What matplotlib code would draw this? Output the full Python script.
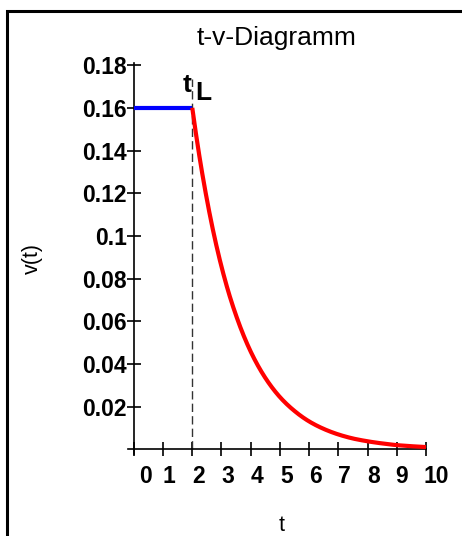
import matplotlib
matplotlib.use('Agg')
import numpy as np
import matplotlib.pyplot as plt
from matplotlib.transforms import ScaledTranslation
from matplotlib.lines import Line2D

plt.rcParams['font.family'] = ['Liberation Sans', 'DejaVu Sans']

# --- data ---
t_const = [0, 2]
v_const = [0.16, 0.16]

t_decay = [2, 2.25, 2.5, 2.75, 3, 3.25, 3.5, 3.75, 4, 4.5, 5, 5.5, 6, 6.5, 7,
           7.5, 8, 8.5, 9, 9.5, 10]
v_decay = [0.160, 0.1368, 0.1171, 0.1001, 0.0856, 0.0732, 0.0627, 0.0536,
           0.0458, 0.0335, 0.0245, 0.0180, 0.0131, 0.0096, 0.0070, 0.0051,
           0.0038, 0.0028, 0.0020, 0.0015, 0.0011]

t_L = 2
x_ticks = [0, 1, 2, 3, 4, 5, 6, 7, 8, 9, 10]
y_ticks = [0.02, 0.04, 0.06, 0.08, 0.10, 0.12, 0.14, 0.16, 0.18]
y_tick_labels = ['0.02', '0.04', '0.06', '0.08', '0.1', '0.12', '0.14', '0.16', '0.18']

W, H = 462, 536
fig = plt.figure(figsize=(W / 100, H / 100), dpi=100)
ax = fig.add_axes([128 / W, (H - 454.1) / H, 298 / W, 391.1 / H])

# outer frame (partly clipped by the image border)
fig.add_artist(Line2D([7.5 / W, 7.5 / W, 1.05], [-0.05, 1 - 10.5 / H, 1 - 10.5 / H],
                      transform=fig.transFigure, color='black', lw=2.2,
                      solid_joinstyle='miter'))

# smooth drawing through the read points (log-linear between them)
t_fine = np.linspace(t_decay[0], t_decay[-1], 400)
v_fine = np.exp(np.interp(t_fine, t_decay, np.log(v_decay)))

ax.plot(t_const, v_const, color='#0000ff', lw=3, solid_capstyle='butt', zorder=3)
ax.plot(t_fine, v_fine, color='#ff0000', lw=3, solid_capstyle='butt', zorder=3)
ax.plot([t_L, t_L], [0, 0.1735], color='#333333', lw=1, dashes=(6, 3), zorder=2)

ax.set_xlim(-0.2, 10)
ax.set_ylim(-0.0022, 0.181)

for s in ['top', 'right']:
    ax.spines[s].set_visible(False)
ax.spines['left'].set_position(('data', 0))
ax.spines['bottom'].set_position(('data', 0))
for s in ['left', 'bottom']:
    ax.spines[s].set_linewidth(1.2)

ax.set_xticks(x_ticks)
ax.set_xticklabels([str(x) for x in x_ticks], fontsize=16.5, fontweight='bold')
ax.set_yticks(y_ticks)
ax.set_yticklabels(y_tick_labels, fontsize=16.5, fontweight='bold')
ax.tick_params(axis='x', direction='inout', length=10, width=1.2, pad=6)
ax.tick_params(axis='y', direction='inout', length=10, width=1.2, pad=0)

x_label_shift_px = [12, 6, 6, 6, 6, 7, 6, 6, 6, 5, 10]
for lab, dx in zip(ax.get_xticklabels(), x_label_shift_px):
    lab.set_transform(lab.get_transform() + ScaledTranslation(dx / 100, 0, fig.dpi_scale_trans))

ax.set_title('t-v-Diagramm', fontsize=19, y=1.046, pad=0)
ax.set_xlabel('t', fontsize=15.5)
ax.xaxis.set_label_coords(0.515, -0.155)
ax.set_ylabel('v(t)', fontsize=15.5, va='center')
ax.yaxis.set_label_coords(-0.32, 0.501)

ax.text(1.97, 0.1674, 't', fontsize=19, fontweight='bold', ha='right', va='baseline')
ax.text(2.10, 0.1637, 'L', fontsize=19, fontweight='bold', ha='left', va='baseline')

fig.savefig('out.png', dpi=100)
